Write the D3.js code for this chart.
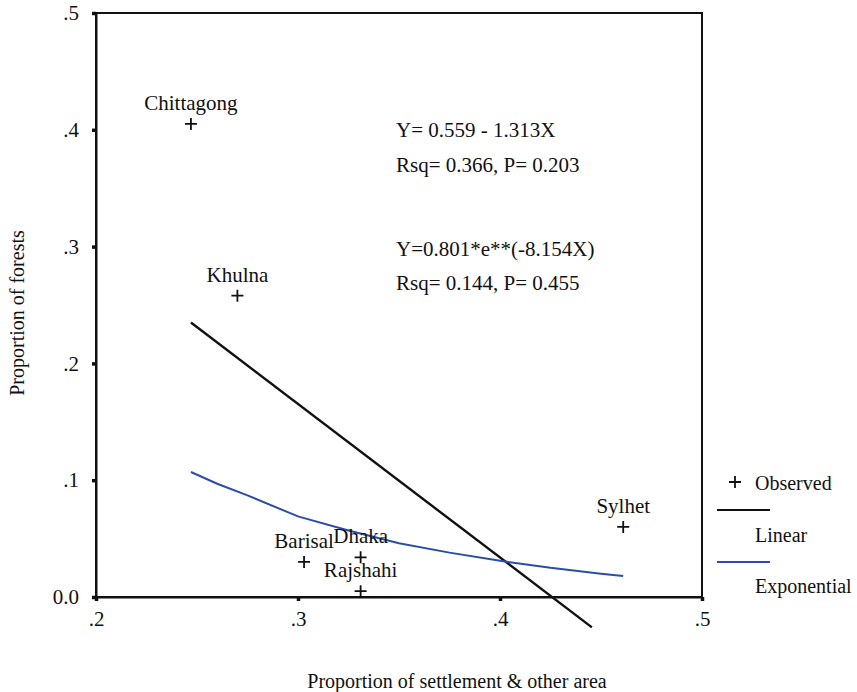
<!DOCTYPE html>
<html>
<head>
<meta charset="utf-8">
<script src="https://cdn.jsdelivr.net/npm/d3@7"></script>
<style>
  body { margin: 0; background: #fff; }
  text { font-family: "Liberation Serif", "Times New Roman", serif; fill: #111; }
</style>
</head>
<body>
<svg id="chart" width="857" height="692"></svg>
<script>
// observed regions
let regions = ["Chittagong", "Khulna", "Barisal", "Dhaka", "Rajshahi", "Sylhet"]
let settlement = [0.247, 0.270, 0.303, 0.331, 0.331, 0.461]
let forests = [0.405, 0.258, 0.030, 0.034, 0.005, 0.060]

// fitted lines
let linearX = [0.247, 0.4455]
let linearY = [0.235, -0.026]
let expX = [0.247, 0.260, 0.275, 0.300, 0.325, 0.350, 0.375, 0.400, 0.425, 0.450, 0.461]
let expY = [0.107, 0.097, 0.087, 0.069, 0.057, 0.046, 0.038, 0.031, 0.025, 0.020, 0.018]

let xTicks = [0.2, 0.3, 0.4, 0.5]
let xTickLabels = [".2", ".3", ".4", ".5"]
let yTicks = [0, 0.1, 0.2, 0.3, 0.4, 0.5]
let yTickLabels = ["0.0", ".1", ".2", ".3", ".4", ".5"]

let notes = ["Y= 0.559 - 1.313X", "Rsq= 0.366, P= 0.203", "Y=0.801*e**(-8.154X)", "Rsq= 0.144, P= 0.455"]
let legendLabels = ["Observed", "Linear", "Exponential"]

let svg = d3.select("#chart")

let x = d3.scaleLinear().domain([0.2, 0.5]).range([96, 702])
let y = d3.scaleLinear().domain([0, 0.5]).range([597, 13])

// frame
svg.append("rect")
  .attr("x", x(0.2)).attr("y", y(0.5))
  .attr("width", x(0.5) - x(0.2)).attr("height", y(0) - y(0.5))
  .attr("fill", "none").attr("stroke", "#111").attr("stroke-width", 2)

let xAxis = svg.append("g")
  .attr("transform", `translate(0,${y(0)})`)
  .call(d3.axisBottom(x).tickValues(xTicks).tickFormat((d, i) => xTickLabels[i]).tickSizeInner(4).tickSizeOuter(0).tickPadding(10))

let yAxis = svg.append("g")
  .attr("transform", `translate(${x(0.2)},0)`)
  .call(d3.axisLeft(y).tickValues(yTicks).tickFormat((d, i) => yTickLabels[i]).tickSizeInner(4).tickSizeOuter(0).tickPadding(13))

for (let ax of [xAxis, yAxis]) {
  ax.select(".domain").attr("stroke", "#111").attr("stroke-width", 2)
  ax.selectAll(".tick line").attr("stroke", "#111").attr("stroke-width", 3.5)
  ax.selectAll(".tick text").style("font-family", '"Liberation Serif", serif').style("font-size", "21px").attr("fill", "#111")
}

// fit lines
let lin = linearX.map((d, i) => [d, linearY[i]])
let expo = expX.map((d, i) => [d, expY[i]])
let line = d3.line().x(d => x(d[0])).y(d => y(d[1]))

svg.append("path").attr("d", line(lin))
  .attr("fill", "none").attr("stroke", "#111").attr("stroke-width", 2.4)
svg.append("path").attr("d", line(expo))
  .attr("fill", "none").attr("stroke", "#2a4ea8").attr("stroke-width", 2)

// observed points
let pts = regions.map((r, i) => ({ name: r, sx: settlement[i], fy: forests[i] }))

let g = svg.selectAll(".pt").data(pts).enter().append("g")
  .attr("class", "pt")
  .attr("transform", d => `translate(${x(d.sx)},${y(d.fy)})`)

g.append("path")
  .attr("d", "M-6,0H6M0,-6V6")
  .attr("stroke", "#111").attr("stroke-width", 1.8)

g.append("text")
  .attr("y", -14)
  .attr("text-anchor", "middle")
  .style("font-size", "21px")
  .text(d => d.name)

// equations
let noteY = [137, 172, 256, 290]
svg.selectAll(".note").data(notes).enter().append("text")
  .attr("class", "note")
  .attr("x", 396).attr("y", (d, i) => noteY[i])
  .style("font-size", "21px")
  .text(d => d)

// axis titles
svg.append("text")
  .attr("x", 457).attr("y", 688)
  .attr("text-anchor", "middle")
  .style("font-size", "20px")
  .text("Proportion of settlement & other area")

svg.append("text")
  .attr("transform", "translate(24,313) rotate(-90)")
  .attr("text-anchor", "middle")
  .style("font-size", "20px")
  .text("Proportion of forests")

// legend
let lg = svg.append("g")
lg.append("path").attr("d", "M729,482H741M735,476V488").attr("stroke", "#111").attr("stroke-width", 1.8)
lg.append("line").attr("x1", 717).attr("x2", 770).attr("y1", 510).attr("y2", 510).attr("stroke", "#111").attr("stroke-width", 2)
lg.append("line").attr("x1", 717).attr("x2", 770).attr("y1", 562).attr("y2", 562).attr("stroke", "#2a4ea8").attr("stroke-width", 2)
let legendY = [490, 542, 593]
lg.selectAll("text").data(legendLabels).enter().append("text")
  .attr("x", 755).attr("y", (d, i) => legendY[i])
  .style("font-size", "20px")
  .text(d => d)
</script>
</body>
</html>
